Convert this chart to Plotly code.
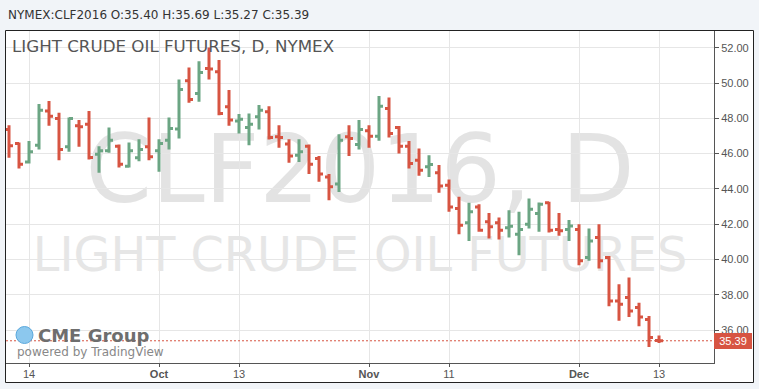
import plotly.graph_objects as go

# ---------------- data ----------------
symbol = "NYMEX:CLF2016"
chart_title = "LIGHT CRUDE OIL FUTURES, D, NYMEX"
wm_big = "CLF2016, D"
wm_small = "LIGHT CRUDE OIL FUTURES"

open_ = [47.37, 46.57, 45.53, 46.48, 48.41, 47.99, 46.39, 47.58, 47.67, 45.97,
         46.16, 46.42, 45.29, 45.76, 46.39, 46.16, 46.76, 47.39, 50.13, 49.41,
         50.83, 50.64, 48.65, 47.85, 47.48, 48.09, 48.37, 46.95, 46.54, 45.91,
         46.42, 45.72, 44.68, 44.27, 46.95, 46.52, 47.29, 46.99, 48.56, 47.48,
         46.42, 45.63, 45.25, 44.91, 44.21, 42.89, 42.08, 42.98, 42.13, 42.08,
         41.80, 41.43, 42.00, 42.60, 43.21, 41.70, 41.70, 41.70, 40.11, 41.24,
         40.11, 37.65, 37.84, 37.27, 36.59, 35.40]
high = [47.61, 46.63, 46.71, 48.81, 48.98, 48.31, 48.05, 47.90, 48.41, 46.42,
        47.48, 46.52, 46.63, 46.82, 48.05, 46.82, 48.05, 50.20, 50.88, 51.24,
        52.02, 51.30, 49.60, 48.24, 48.28, 48.75, 48.69, 47.61, 46.82, 46.82,
        46.52, 45.86, 44.84, 47.10, 47.61, 47.90, 47.61, 49.26, 49.18, 47.56,
        46.71, 46.29, 45.91, 45.35, 44.53, 43.55, 43.21, 43.13, 42.64, 42.38,
        42.79, 42.70, 43.45, 43.23, 43.27, 42.64, 42.23, 42.00, 41.75, 42.00,
        40.19, 38.60, 38.98, 37.54, 36.80, 35.69]
low = [45.76, 45.16, 45.44, 46.23, 47.58, 45.63, 46.10, 46.39, 45.67, 44.91,
       46.05, 45.21, 45.21, 45.57, 45.63, 44.97, 46.23, 46.86, 48.88, 48.94,
       50.20, 48.18, 47.58, 47.14, 46.48, 47.37, 46.80, 46.33, 45.48, 45.53,
       44.84, 44.40, 43.36, 43.83, 45.86, 46.23, 46.33, 46.73, 46.91, 46.01,
       45.16, 44.74, 44.68, 43.78, 42.70, 41.43, 41.05, 41.57, 41.19, 41.13,
       41.24, 40.24, 41.75, 41.57, 41.53, 41.34, 41.05, 39.67, 39.92, 39.49,
       37.35, 36.52, 36.74, 36.22, 35.04, 35.27]
close = [46.44, 45.40, 46.10, 48.46, 48.12, 46.23, 47.99, 47.52, 45.78, 46.16,
         46.76, 45.40, 46.16, 46.23, 45.82, 46.57, 47.43, 49.64, 49.07, 50.60,
         50.79, 48.28, 47.90, 47.95, 47.67, 48.46, 46.91, 46.91, 45.86, 46.10,
         45.40, 44.84, 44.12, 46.76, 46.85, 47.37, 46.99, 48.69, 47.14, 46.42,
         45.44, 45.06, 45.38, 44.16, 42.98, 41.94, 42.70, 41.66, 41.85, 41.66,
         41.88, 41.70, 42.85, 43.13, 41.66, 41.62, 41.89, 39.92, 41.05, 39.92,
         37.65, 37.46, 37.08, 36.74, 35.57, 35.39]
bar_index = list(range(len(close)))

x_tick_pos = [2, 15, 23, 36, 44, 57, 65]
x_tick_text = ["14", "<b>Oct</b>", "13", "<b>Nov</b>", "11", "<b>Dec</b>", "13"]
y_ticks = [36, 38, 40, 42, 44, 46, 48, 50, 52]

# ---------------- styling / layout ----------------
UP = "#6ba583"
DOWN = "#d75442"
W, H = 759, 389
L, R, T, B = 6, 714, 31, 363          # plot area in pixels
PW, PH = R - L, B - T


def px(x):
    return (x - L) / PW


def py(y):
    return (B - y) / PH


header = (f"{symbol} O:{open_[-1]:.2f} H:{high[-1]:.2f} "
          f"L:{low[-1]:.2f} C:{close[-1]:.2f}")

fig = go.Figure()
fig.add_trace(go.Ohlc(
    x=bar_index, open=open_, high=high, low=low, close=close,
    increasing=dict(line=dict(color=UP, width=3)),
    decreasing=dict(line=dict(color=DOWN, width=3)),
    tickwidth=0.4, hoverinfo="skip", showlegend=False,
))

axis_font = dict(family="Liberation Sans, Arial, sans-serif", size=11, color="#555")

fig.update_layout(
    width=W, height=H,
    margin=dict(l=L, r=W - R, t=T, b=H - B, pad=0),
    paper_bgcolor="#f1f4f8",
    plot_bgcolor="white",
    showlegend=False,
    xaxis=dict(
        range=[-0.3, 70.5], rangeslider=dict(visible=False),
        tickmode="array", tickvals=x_tick_pos, ticktext=x_tick_text,
        showgrid=True, gridcolor="#e6e6e6", gridwidth=1,
        ticks="outside", ticklen=3, tickcolor="#555",
        ticklabelstandoff=-2,
        showline=True, linecolor="#555", linewidth=1,
        tickfont=axis_font, zeroline=False, fixedrange=True,
    ),
    yaxis=dict(
        side="right", range=[34.13, 52.95],
        tickmode="array", tickvals=y_ticks,
        ticktext=[f"{v:.2f}" for v in y_ticks],
        showgrid=True, gridcolor="#e6e6e6", gridwidth=1,
        ticks="outside", ticklen=4, tickcolor="#555",
        showline=True, linecolor="#555", linewidth=1,
        tickfont=axis_font, zeroline=False, fixedrange=True,
    ),
)

shapes = [
    # white chart panel
    dict(type="rect", xref="paper", yref="paper", layer="below",
         x0=px(5), x1=px(754), y0=py(383), y1=py(30),
         fillcolor="white", line=dict(width=0)),
    # watermarks
    dict(type="rect", xref="paper", yref="paper", layer="below",
         x0=px(60), x1=px(660), y0=py(211), y1=py(112),
         fillcolor="rgba(0,0,0,0)", line=dict(width=0),
         label=dict(text=wm_big, textposition="middle center",
                    font=dict(family="DejaVu Sans", size=95, color="#e3e3e3"))),
    dict(type="rect", xref="paper", yref="paper", layer="below",
         x0=px(20), x1=px(700), y0=py(281), y1=py(221),
         fillcolor="rgba(0,0,0,0)", line=dict(width=0),
         label=dict(text=wm_small, textposition="middle center",
                    font=dict(family="DejaVu Sans", size=47.7, color="#e6e6e6"))),
    # last price dotted line
    dict(type="line", xref="paper", yref="y", layer="above",
         x0=0, x1=1, y0=close[-1], y1=close[-1],
         line=dict(color=DOWN, width=1, dash="2px,2px")),
    # outer frame
    dict(type="rect", xref="paper", yref="paper", layer="above",
         x0=px(5.5), x1=px(753.5), y0=py(382.5), y1=py(30.5),
         fillcolor="rgba(0,0,0,0)", line=dict(color="#222", width=1)),
    # CME globe
    dict(type="circle", xref="paper", yref="paper", layer="above",
         x0=px(16), x1=px(33), y0=py(343.5), y1=py(326.5),
         fillcolor="#8cc8ee", line=dict(color="#5aa8dc", width=1)),
]
fig.update_layout(shapes=shapes)

annotations = [
    dict(text=header, xref="paper", yref="paper", x=px(6), y=py(15),
         xanchor="left", yanchor="middle", showarrow=False,
         font=dict(family="DejaVu Sans", size=12, color="#333")),
    dict(text=chart_title, xref="paper", yref="paper", x=px(10), y=py(46.3),
         xanchor="left", yanchor="middle", showarrow=False,
         font=dict(family="DejaVu Sans", size=16.7, color="#555")),
    dict(text="CME Group", xref="paper", yref="paper", x=px(36), y=py(335),
         xanchor="left", yanchor="middle", showarrow=False,
         font=dict(family="DejaVu Sans", size=18, color="#6e6e6e", weight=600)),
    dict(text="powered by TradingView", xref="paper", yref="paper", x=px(15), y=py(351.5),
         xanchor="left", yanchor="middle", showarrow=False,
         font=dict(family="DejaVu Sans", size=12, color="#888")),
    dict(text=f"{close[-1]:.2f}", xref="paper", yref="y", x=1, y=close[-1],
         xanchor="left", yanchor="middle", showarrow=False,
         width=38, height=16, borderpad=0, borderwidth=0, align="center",
         bgcolor=DOWN,
         font=dict(family="Liberation Sans, Arial, sans-serif", size=11, color="white")),
]
fig.update_layout(annotations=annotations)

fig.write_html("out.html", config=dict(displayModeBar=False),
               post_script="document.body.style.margin='0';document.body.style.overflow='hidden';")
